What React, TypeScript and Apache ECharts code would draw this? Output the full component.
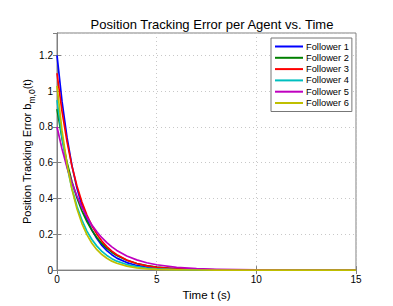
import React, { useEffect, useRef } from "react";
import * as echarts from "echarts";

const titleText = "Position Tracking Error per Agent vs. Time";
const xLabel = "Time t (s)";
const seriesNames = ["Follower 1", "Follower 2", "Follower 3", "Follower 4", "Follower 5", "Follower 6"];
const seriesColors = ["#0000FF", "#008000", "#FF0000", "#00BFBF", "#BF00BF", "#BFBF00"];

const times = [0, 0.25, 0.5, 0.75, 1, 1.25, 1.5, 1.75, 2, 2.25, 2.5, 2.75, 3, 3.5, 4, 4.5, 5, 6, 7, 8, 10, 12, 15];

const follower1 = [1.2, 0.944, 0.743, 0.584, 0.459, 0.361, 0.284, 0.224, 0.176, 0.138, 0.109, 0.086, 0.067, 0.042, 0.026, 0.016, 0.0099, 0.0038, 0.0014, 0.0005, 0.0001, 0, 0];
const follower2 = [0.9, 0.737, 0.603, 0.494, 0.404, 0.331, 0.271, 0.222, 0.182, 0.149, 0.122, 0.1, 0.082, 0.055, 0.037, 0.0246, 0.0165, 0.0074, 0.0033, 0.0015, 0.0003, 0.0001, 0];
const follower3 = [1.1, 0.889, 0.719, 0.581, 0.47, 0.38, 0.307, 0.248, 0.201, 0.162, 0.131, 0.106, 0.086, 0.056, 0.037, 0.024, 0.0157, 0.0067, 0.0029, 0.0012, 0.0002, 0, 0];
const follower4 = [0.95, 0.744, 0.582, 0.456, 0.357, 0.279, 0.218, 0.171, 0.134, 0.105, 0.082, 0.064, 0.05, 0.031, 0.019, 0.0116, 0.0071, 0.0027, 0.001, 0.0004, 0.0001, 0, 0];
const follower5 = [0.8, 0.678, 0.575, 0.488, 0.414, 0.351, 0.297, 0.252, 0.214, 0.181, 0.154, 0.13, 0.11, 0.079, 0.057, 0.041, 0.03, 0.015, 0.0079, 0.0041, 0.0011, 0.0003, 0];
const follower6 = [1.03, 0.782, 0.594, 0.451, 0.343, 0.26, 0.198, 0.15, 0.114, 0.087, 0.066, 0.05, 0.038, 0.022, 0.0127, 0.0073, 0.0042, 0.0014, 0.0005, 0.0002, 0, 0, 0];

const allValues = [follower1, follower2, follower3, follower4, follower5, follower6];

const FONT = "Liberation Sans, Arial, Helvetica, sans-serif";
const FRAME = "#808080";

export default function App() {
  const ref = useRef<HTMLDivElement>(null);
  useEffect(() => {
    if (!ref.current) return;
    const chart = echarts.init(ref.current, undefined, { renderer: "svg" });
    const series = allValues.map((vals, i) => ({
      name: seriesNames[i],
      type: "line",
      data: times.map((t, j) => [t, vals[j]]),
      smooth: false,
      showSymbol: false,
      symbol: "none",
      lineStyle: { color: seriesColors[i], width: 1.7, join: "round" },
      itemStyle: { color: seriesColors[i] },
      xAxisIndex: 0,
      yAxisIndex: 0,
    }));
    const commonTick = { show: true, inside: true, length: 4, lineStyle: { color: FRAME } };
    chart.setOption({
      animation: false,
      backgroundColor: "#ffffff",
      textStyle: { fontFamily: FONT },
      title: {
        text: titleText,
        left: 207,
        textAlign: "center",
        top: 13,
        textStyle: { fontFamily: FONT, fontSize: 13, fontWeight: "normal", color: "#000" },
      },
      grid: { left: 57, top: 33, width: 299, height: 238, show: true, borderColor: FRAME, borderWidth: 1, backgroundColor: "#fff" },
      legend: {
        orient: "vertical",
        left: 271,
        top: 38,
        data: seriesNames.map((n) => ({ name: n, icon: "rect" })),
        itemWidth: 28,
        itemHeight: 2,
        itemGap: 0.3,
        padding: [3, 3, 3, 4],
        borderColor: "#777",
        borderWidth: 1,
        backgroundColor: "#fff",
        textStyle: { fontFamily: FONT, fontSize: 9.3, lineHeight: 11, color: "#000", padding: [0, 0, 0, -2] },
      },
      xAxis: [
        {
          type: "value",
          min: 0,
          max: 15,
          interval: 5,
          name: xLabel,
          nameLocation: "middle",
          nameGap: 16,
          nameTextStyle: { fontFamily: FONT, fontSize: 11.5, color: "#000" },
          axisLine: { show: true, lineStyle: { color: FRAME } },
          axisTick: commonTick,
          axisLabel: { fontFamily: FONT, fontSize: 10, color: "#000", margin: 4 },
          splitLine: { show: true, lineStyle: { color: "#c8c8c8", type: [1, 3], width: 1 } },
        },
        {
          type: "value",
          position: "top",
          min: 0,
          max: 15,
          interval: 5,
          axisLine: { show: true, lineStyle: { color: FRAME } },
          axisTick: commonTick,
          axisLabel: { show: false },
          splitLine: { show: false },
        },
      ],
      yAxis: [
        {
          type: "value",
          min: 0,
          max: 1.325,
          interval: 0.2,
          name: "{a|Position Tracking Error b}{s|m,0}{a|(t)}",
          nameLocation: "middle",
          nameRotate: 90,
          nameGap: 21,
          nameMoveOverlap: false,
          nameTextStyle: {
            color: "#000",
            rich: {
              a: { fontFamily: FONT, fontSize: 11, color: "#000", lineHeight: 18, verticalAlign: "middle" },
              s: { fontFamily: FONT, fontSize: 8.5, color: "#000", lineHeight: 18, verticalAlign: "bottom" },
            },
          },
          axisLine: { show: true, lineStyle: { color: FRAME } },
          axisTick: commonTick,
          axisLabel: {
            fontFamily: FONT,
            fontSize: 10,
            color: "#000",
            margin: 4,
            showMaxLabel: false,
            formatter: (v: number) => String(Math.round(v * 10) / 10),
          },
          splitLine: { show: true, lineStyle: { color: "#c8c8c8", type: [1, 3], width: 1 } },
        },
        {
          type: "value",
          position: "right",
          min: 0,
          max: 1.325,
          interval: 0.2,
          axisLine: { show: true, lineStyle: { color: FRAME } },
          axisTick: commonTick,
          axisLabel: { show: false },
          splitLine: { show: false },
        },
      ],
      series,
    });
    return () => chart.dispose();
  }, []);
  return <div ref={ref} style={{ position: "absolute", left: 0, top: 0, width: 393, height: 306 }} />;
}
